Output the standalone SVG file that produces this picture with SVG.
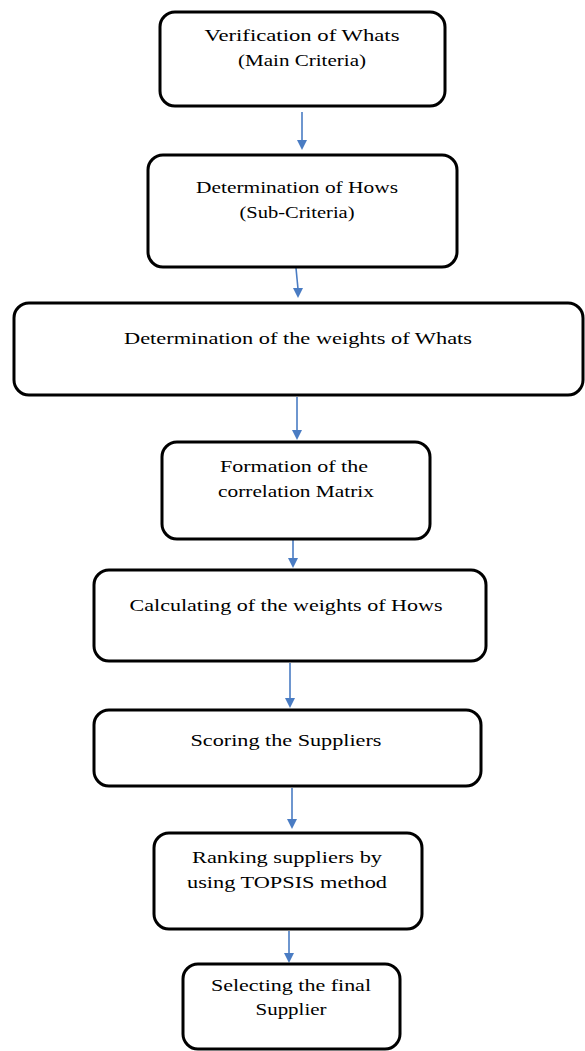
<svg xmlns="http://www.w3.org/2000/svg" width="585" height="1051" viewBox="0 0 585 1051">
<style>
.box{fill:#fff;stroke:#000;stroke-width:3}
.t{font-family:'Liberation Serif','DejaVu Serif',serif;font-size:17px;fill:#000;text-anchor:middle}
.c{stroke:#4a7cc3;stroke-width:1.6;fill:none}
.h{fill:#4a7cc3}
</style>
<rect width="585" height="1051" fill="#fff"/>
<g id="connectors">
<line class="c" x1="302" y1="112" x2="302" y2="141"/>
<path class="h" d="M297,140 L307,140 L302,150 Z"/>
<line class="c" x1="296" y1="268" x2="298" y2="289"/>
<path class="h" d="M293,288 L303,288 L298,298 Z"/>
<line class="c" x1="297" y1="397" x2="297" y2="431"/>
<path class="h" d="M292,430 L302,430 L297,440 Z"/>
<line class="c" x1="293" y1="540" x2="293" y2="559"/>
<path class="h" d="M288,558 L298,558 L293,568 Z"/>
<line class="c" x1="290" y1="663" x2="290" y2="699"/>
<path class="h" d="M285,698 L295,698 L290,708 Z"/>
<line class="c" x1="292" y1="788" x2="292" y2="820"/>
<path class="h" d="M287,819 L297,819 L292,829 Z"/>
<line class="c" x1="289" y1="931" x2="289" y2="954"/>
<path class="h" d="M284,953 L294,953 L289,963 Z"/>
</g>
<g id="n1">
<rect class="box" x="160" y="12" width="285" height="94" rx="15"/>
<text class="t" x="302" y="41" textLength="195" lengthAdjust="spacingAndGlyphs">Verification  of Whats</text>
<text class="t" x="302" y="66" textLength="128" lengthAdjust="spacingAndGlyphs">(Main Criteria)</text>
</g>
<g id="n2">
<rect class="box" x="148" y="155" width="309" height="112" rx="15"/>
<text class="t" x="297" y="193" textLength="202" lengthAdjust="spacingAndGlyphs">Determination of Hows</text>
<text class="t" x="297" y="218" textLength="115" lengthAdjust="spacingAndGlyphs">(Sub-Criteria)</text>
</g>
<g id="n3">
<rect class="box" x="14" y="303" width="569" height="92" rx="15"/>
<text class="t" x="298" y="344" textLength="348" lengthAdjust="spacingAndGlyphs">Determination  of the weights of Whats</text>
</g>
<g id="n4">
<rect class="box" x="162" y="442" width="268" height="97" rx="15"/>
<text class="t" x="294" y="472" textLength="148" lengthAdjust="spacingAndGlyphs">Formation  of the</text>
<text class="t" x="296" y="497" textLength="156" lengthAdjust="spacingAndGlyphs">correlation Matrix</text>
</g>
<g id="n5">
<rect class="box" x="94" y="570" width="392" height="91" rx="15"/>
<text class="t" x="286" y="611" textLength="313" lengthAdjust="spacingAndGlyphs">Calculating  of the weights of Hows</text>
</g>
<g id="n6">
<rect class="box" x="94" y="710" width="387" height="76" rx="15"/>
<text class="t" x="286" y="746" textLength="191" lengthAdjust="spacingAndGlyphs">Scoring the Suppliers</text>
</g>
<g id="n7">
<rect class="box" x="154" y="833" width="268" height="96" rx="15"/>
<text class="t" x="287" y="863" textLength="190" lengthAdjust="spacingAndGlyphs">Ranking  suppliers by</text>
<text class="t" x="287" y="888" textLength="200" lengthAdjust="spacingAndGlyphs">using TOPSIS  method</text>
</g>
<g id="n8">
<rect class="box" x="183" y="964" width="217" height="85" rx="15"/>
<text class="t" x="291" y="991" textLength="160" lengthAdjust="spacingAndGlyphs">Selecting the final</text>
<text class="t" x="291" y="1015" textLength="71" lengthAdjust="spacingAndGlyphs">Supplier</text>
</g>
</svg>
